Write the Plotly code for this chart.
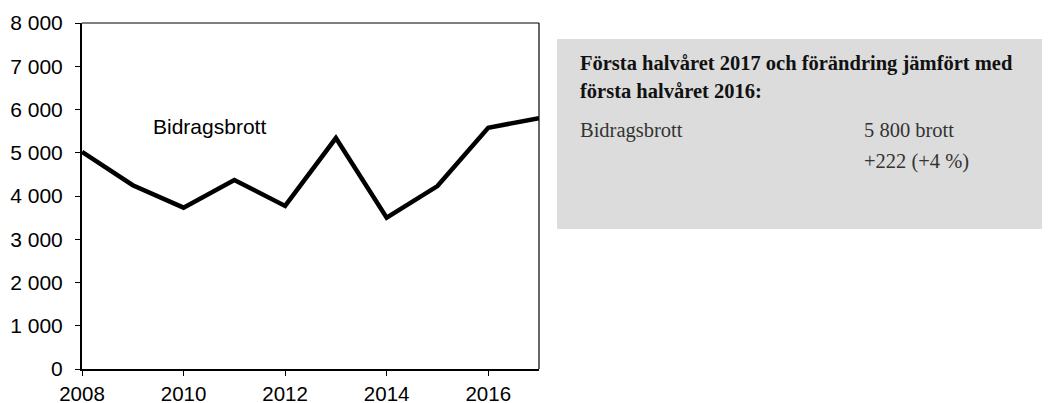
import plotly.graph_objects as go

years = [2008, 2009, 2010, 2011, 2012, 2013, 2014, 2015, 2016, 2017]
bidragsbrott = [5020, 4250, 3730, 4370, 3770, 5340, 3500, 4230, 5578, 5800]
series_label = "Bidragsbrott"

box_title = ["Första halvåret 2017 och förändring jämfört med", "första halvåret 2016:"]
box_row_label = "Bidragsbrott"
box_row_values = ["5 800 brott", "+222 (+4 %)"]

OFF = 8  # default body margin of the html page
L, R, T, B = 82 - OFF, 539 - OFF, 23 - OFF, 369 - OFF
W, H = 1050 - OFF, 403 - OFF
pw, ph = R - L, B - T

def px(x):
    return (x - OFF - L) / pw

def py(y):
    return (B - (y - OFF)) / ph

fig = go.Figure()
fig.add_trace(go.Scatter(x=years, y=bidragsbrott, mode="lines",
                         line=dict(color="black", width=4.5), showlegend=False,
                         cliponaxis=False))

sans = "Liberation Sans, Arial, sans-serif"
fig.update_layout(
    width=W, height=H,
    margin=dict(l=L, r=W - R, t=T, b=H - B, pad=0, autoexpand=False),
    paper_bgcolor="white", plot_bgcolor="white",
    separators=", ",
    font=dict(family=sans, size=21, color="black"),
    xaxis=dict(range=[2008, 2017], tickvals=[2008, 2010, 2012, 2014, 2016],
               showgrid=False, zeroline=False, showline=True, linecolor="black",
               linewidth=2, ticks="outside", ticklen=5, tickwidth=1, tickcolor="black",
               ticklabelstandoff=0, tickfont=dict(size=20.5), automargin=False),
    yaxis=dict(range=[0, 8000], dtick=1000, tickformat=",d",
               showgrid=False, zeroline=False, showline=True, linecolor="black",
               linewidth=2, ticks="outside", ticklen=5, tickwidth=1, tickcolor="black",
               ticklabelstandoff=8, automargin=False),
)

# thin top / right frame
fig.add_shape(type="line", xref="paper", yref="paper", x0=0, x1=1, y0=1, y1=1,
              line=dict(color="black", width=1.2))
fig.add_shape(type="line", xref="paper", yref="paper", x0=1, x1=1, y0=0, y1=1,
              line=dict(color="black", width=1.2))

# grey info box
fig.add_shape(type="rect", xref="paper", yref="paper",
              x0=px(557), x1=px(1052), y0=py(229), y1=py(39),
              fillcolor="#dcdcdc", line=dict(width=0), layer="below")

fig.add_annotation(x=2010.52, y=5600, text=series_label, showarrow=False,
                   font=dict(size=21, family=sans))

serif = "Liberation Serif, Times New Roman, serif"
for i, t in enumerate(box_title):
    fig.add_annotation(xref="paper", yref="paper", x=px(578), y=py(63 + 28 * i),
                       xanchor="left", yanchor="middle", text="<b>" + t + "</b>",
                       showarrow=False, font=dict(family=serif, size=20.5, color="#111"))

fig.add_annotation(xref="paper", yref="paper", x=px(578), y=py(130),
                   xanchor="left", yanchor="middle", text=box_row_label,
                   showarrow=False, font=dict(family=serif, size=20.5, color="#333"))
for i, t in enumerate(box_row_values):
    fig.add_annotation(xref="paper", yref="paper", x=px(862), y=py(130 + 31 * i),
                       xanchor="left", yanchor="middle", text=t,
                       showarrow=False, font=dict(family=serif, size=20.5, color="#333"))

fig.write_html("out.html")
